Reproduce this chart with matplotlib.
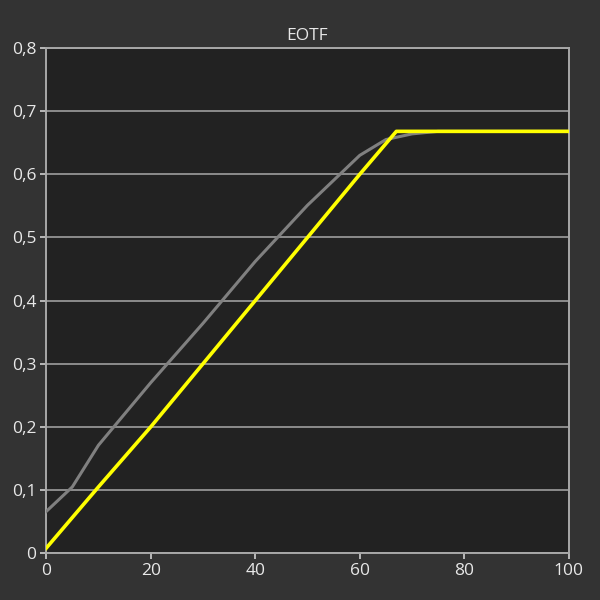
import matplotlib
matplotlib.use("Agg")
import matplotlib.pyplot as plt

# measured (gray) and target (yellow) EOTF
x_measured = [0, 5, 10, 20, 30, 40, 50, 60, 65, 70, 75, 80, 90, 100]
y_measured = [0.066, 0.105, 0.171, 0.27, 0.364, 0.462, 0.551, 0.63, 0.655, 0.664, 0.668, 0.668, 0.668, 0.668]

x_target = [0, 10, 20, 30, 40, 50, 60, 67, 80, 90, 100]
y_target = [0.008, 0.105, 0.2, 0.3, 0.4, 0.5, 0.6, 0.668, 0.668, 0.668, 0.668]

y_ticks = [0, 0.1, 0.2, 0.3, 0.4, 0.5, 0.6, 0.7, 0.8]
y_labels = ["0", "0,1", "0,2", "0,3", "0,4", "0,5", "0,6", "0,7", "0,8"]
x_ticks = [0, 20, 40, 60, 80, 100]

plt.rcParams["font.family"] = ["Open Sans", "DejaVu Sans"]

fig = plt.figure(figsize=(6, 6), dpi=100, facecolor="#333333")
ax = fig.add_axes([0.077, 0.078, 0.871, 0.842])
ax.set_facecolor("#222222")

ax.plot(x_measured, y_measured, color="#808080", linewidth=2.2, zorder=3)
ax.plot(x_target, y_target, color="#ffff00", linewidth=2.6, zorder=4)

ax.set_xlim(0, 100)
ax.set_ylim(0, 0.8)
ax.set_yticks(y_ticks)
ax.set_yticklabels(y_labels)
ax.set_xticks(x_ticks)
ax.yaxis.grid(True, color="#8c8c8c", linewidth=1.4)
ax.set_axisbelow(True)

for s in ax.spines.values():
    s.set_color("#a8a8a8")
    s.set_linewidth(1.4)

ax.tick_params(colors="#e8e8e8", labelsize=12.5, length=4, width=1.2, pad=3)
ax.tick_params(axis="both", color="#d0d0d0")
ax.set_title("EOTF", color="#e8e8e8", fontsize=12.5, pad=6)

fig.savefig("out.png", dpi=100, facecolor=fig.get_facecolor())
